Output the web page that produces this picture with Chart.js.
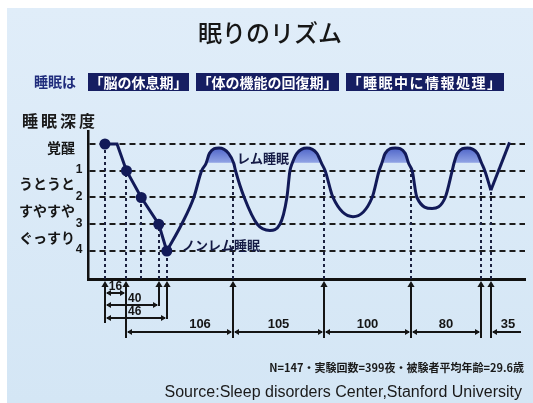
<!DOCTYPE html>
<html lang="ja">
<head>
<meta charset="utf-8">
<title>眠りのリズム</title>
<style>
  html, body { margin: 0; padding: 0; background: #ffffff; }
  canvas { display: block; }
</style>
<script src="https://cdn.jsdelivr.net/npm/chart.js@4/dist/chart.umd.min.js"></script>
</head>
<body>
<canvas id="sleep" width="533" height="403"></canvas>
<script>
// ---- data -------------------------------------------------------------
// Sleep depth: 0 = awake (覚醒), 1..4 = non-REM stages. Time in minutes.

// falling asleep: lights-out, drowsy, then stages 1 to 4
const onsetMinutes = [0, 9, 16, 27, 40, 46];
const onsetDepth   = [0, 0, 1, 2, 3, 4];
const onsetDots    = [true, false, true, true, true, true];

// REM / non-REM cycles through the night
const cycleMinutes = [46, 63, 77, 86, 91, 95, 106, 117, 123, 125, 135, 150, 164.5,
                      176, 184, 187.5, 190, 195.5, 207, 218.5, 224, 228, 237, 260,
                      282, 290, 293, 297, 308.5, 320, 324, 328, 333.5, 351,
                      366, 374, 376, 380, 391.5, 403, 408, 411.5, 418.5];
const cycleDepth   = [4, 3, 2, 1, 0.73, 0.35, 0.15, 0.35, 0.73, 1, 2, 3, 3.23,
                      3, 2, 1, 0.73, 0.35, 0.15, 0.35, 0.73, 1, 2, 2.72,
                      2, 1, 0.73, 0.35, 0.15, 0.35, 0.73, 1, 2, 2.41,
                      2, 1, 0.73, 0.35, 0.15, 0.35, 0.73, 1, 1.73];

// final awakening
const wakeMinutes = [418.5, 440];
const wakeDepth   = [1.73, -0.06];

// depth above which the curve is REM sleep (shaded caps)
const remLevel = 0.73;

// axis labels
const depthTicks   = [0, 1, 2, 3, 4];
const stageNumbers = ['1', '2', '3', '4'];
const depthNames   = ['覚醒', 'うとうと', 'すやすや', 'ぐっすり'];

// measured intervals (minutes)
const onsetIntervals = [16, 40, 46];          // lights-out -> stage 1, 3, 4
const cycleIntervals = [106, 105, 100, 80];   // successive cycles from stage 1
const lastDipMinute  = 418.5;
const finalInterval  = 35;

// texts
const titleText   = '眠りのリズム';
const leadText    = '睡眠は';
const roleTexts   = ['「脳の休息期」', '「体の機能の回復期」', '「睡眠中に情報処理」'];
const axisTitle   = '睡眠深度';
const remText     = 'レム睡眠';
const nremText    = 'ノンレム睡眠';
const noteText    = 'N=147・実験回数=399夜・被験者平均年齢=29.6歳';
const sourceText  = 'Source:Sleep disorders Center,Stanford University';

// ---- styles -------------------------------------------------------------
const NAVY = '#121a58';
const INK = '#151515';
const JP = '"Noto Sans CJK JP", "Noto Sans", sans-serif';
const LAT = '"Liberation Sans", Arial, sans-serif';

// time axis whose sleep-onset stretch (up to the knee) is drawn enlarged
class SleepTimeScale extends Chart.LinearScale {
  static id = 'sleeptime';
  static defaults = {};
  _warp(v) {
    const k = this.options.knee, s = this.options.stretch;
    return v <= k ? v * s : k * s + (v - k);
  }
  _unwarp(u) {
    const k = this.options.knee, s = this.options.stretch;
    return u <= k * s ? u / s : u - k * s + k;
  }
  getPixelForValue(v) {
    if (v === null || v === undefined) return NaN;
    const a = this._warp(this.min), b = this._warp(this.max);
    return this.getPixelForDecimal((this._warp(v) - a) / (b - a));
  }
  getValueForPixel(p) {
    const a = this._warp(this.min), b = this._warp(this.max);
    return this._unwarp(a + this.getDecimalForPixel(p) * (b - a));
  }
}
Chart.register(SleepTimeScale);

const pts = (xs, ys) => xs.map((x, i) => ({ x, y: ys[i] }));

function arrowHead(ctx, x, y, dir, size) {
  const s = size || 5, w = s * 0.6;
  ctx.beginPath();
  if (dir === 'r') { ctx.moveTo(x, y); ctx.lineTo(x - s, y - w); ctx.lineTo(x - s, y + w); }
  else if (dir === 'l') { ctx.moveTo(x, y); ctx.lineTo(x + s, y - w); ctx.lineTo(x + s, y + w); }
  else { ctx.moveTo(x, y); ctx.lineTo(x - w, y + s); ctx.lineTo(x + w, y + s); }
  ctx.closePath();
  ctx.fill();
}

function text(ctx, s, x, y, font, color, align, spacing) {
  ctx.font = font;
  ctx.fillStyle = color || INK;
  ctx.textAlign = align || 'left';
  ctx.textBaseline = 'middle';
  ctx.letterSpacing = spacing || '0px';
  ctx.fillText(s, x, y);
  ctx.letterSpacing = '0px';
}

const backdrop = {
  id: 'backdrop',
  beforeDraw(chart) {
    const { ctx, width, height } = chart;
    ctx.save();
    ctx.fillStyle = '#ffffff';
    ctx.fillRect(0, 0, width, height);
    const g = ctx.createLinearGradient(0, 8, 0, height);
    g.addColorStop(0, '#e0edf9');
    g.addColorStop(1, '#d4e6f5');
    ctx.fillStyle = g;
    ctx.fillRect(7, 8, width - 7, height - 8);
    ctx.restore();
  }
};

// dotted drop lines from the curve down to the time axis
const dropLines = {
  id: 'dropLines',
  beforeDatasetsDraw(chart) {
    const { ctx, chartArea: area, scales: { x, y } } = chart;
    const drops = [];
    onsetMinutes.forEach((t, i) => { if (onsetDots[i]) drops.push([t, onsetDepth[i]]); });
    let t = onsetMinutes[0] + onsetIntervals[0];
    cycleIntervals.forEach(m => { t += m; drops.push([t, 1]); });
    drops.push([lastDipMinute, wakeDepth[0]]);
    ctx.save();
    ctx.strokeStyle = '#1b2140';
    ctx.lineWidth = 2;
    ctx.setLineDash([3, 3]);
    drops.forEach(([tm, d]) => {
      const px = Math.round(x.getPixelForValue(tm));
      ctx.beginPath();
      ctx.moveTo(px, area.bottom);
      ctx.lineTo(px, y.getPixelForValue(d));
      ctx.stroke();
    });
    ctx.restore();
  }
};

// titles, labels, interval dimensions and notes
const annotations = {
  id: 'annotations',
  afterDraw(chart) {
    const { ctx, chartArea: area, scales: { x, y } } = chart;
    const X = v => Math.round(x.getPixelForValue(v));
    const Y = v => y.getPixelForValue(v);
    ctx.save();

    // heading
    text(ctx, titleText, 270, 33, `500 24px ${JP}`, '#161616', 'center');
    text(ctx, leadText, 34, 82, `bold 14px ${JP}`, '#1f2c7c');
    const boxSpacing = ['0px', '0px', '1.5px'];
    let bx = 88;
    roleTexts.forEach((s, i) => {
      ctx.font = `bold 14px ${JP}`;
      ctx.letterSpacing = boxSpacing[i];
      const w = ctx.measureText(s).width + 3;
      ctx.letterSpacing = '0px';
      ctx.fillStyle = '#161e62';
      ctx.fillRect(bx, 73, w, 18);
      text(ctx, s, bx + 1.5, 82.5, `bold 14px ${JP}`, '#ffffff', 'left', boxSpacing[i]);
      bx += w + 7;
    });

    // depth axis
    text(ctx, axisTitle, 22, 121, `bold 16px ${JP}`, '#1a1a1a', 'left', '3px');
    text(ctx, depthNames[0], 75, Y(0) + 4, `bold 14px ${JP}`, INK, 'right');
    for (let i = 1; i < depthNames.length; i++) {
      text(ctx, depthNames[i], 75, Y(i + 0.5), `bold 14px ${JP}`, INK, 'right');
    }
    stageNumbers.forEach((s, i) => {
      text(ctx, s, 79, Y(depthTicks[i + 1]) - 1, `bold 12px ${LAT}`, INK, 'center');
    });

    // curve labels
    text(ctx, remText, X(125) + 1, Y(remLevel) - 5, `bold 13px ${JP}`, '#141a45');
    text(ctx, nremText, X(onsetIntervals[2]) + 15, Y(4) - 6, `bold 13px ${JP}`, '#141a45');

    // interval dimensions under the time axis
    const b = area.bottom;
    const t0 = onsetMinutes[0];
    const onsetEnds = onsetIntervals.map(m => t0 + m);
    const bounds = [onsetEnds[0]];
    cycleIntervals.forEach(m => bounds.push(bounds[bounds.length - 1] + m));
    const rowY = [b + 14, b + 26, b + 39];
    const mainY = b + 53;

    ctx.strokeStyle = INK;
    ctx.fillStyle = INK;
    ctx.lineWidth = 2;
    ctx.setLineDash([]);
    const ext = (t, yEnd) => {
      const px = X(t);
      ctx.beginPath();
      ctx.moveTo(px, b + 4);
      ctx.lineTo(px, yEnd);
      ctx.stroke();
      arrowHead(ctx, px, b + 2, 'u', 6);
    };
    ext(t0, rowY[2] + 5);
    ext(onsetEnds[0], mainY + 6);
    ext(onsetEnds[1], rowY[1] + 1);
    ext(onsetEnds[2], rowY[2] + 1);
    bounds.slice(1).forEach(t => ext(t, mainY + 6));
    ext(lastDipMinute, mainY + 6);

    const dim = (x0, x1, yy) => {
      ctx.beginPath();
      ctx.moveTo(x0 + 2, yy);
      ctx.lineTo(x1 - 2, yy);
      ctx.stroke();
      arrowHead(ctx, x0 + 1, yy, 'l', 5);
      arrowHead(ctx, x1 - 1, yy, 'r', 5);
    };
    onsetIntervals.forEach((m, i) => {
      dim(X(t0), X(t0 + m), rowY[i]);
      if (i === 0) {
        text(ctx, String(m), (X(t0) + X(t0 + m)) / 2, rowY[i] - 6, `bold 12px ${LAT}`, INK, 'center');
      } else {
        text(ctx, String(m), X(onsetEnds[0]) + 2, rowY[i] - 6, `bold 12px ${LAT}`, INK, 'left');
      }
    });
    cycleIntervals.forEach((m, i) => {
      const x0 = X(bounds[i]), x1 = X(bounds[i + 1]);
      dim(x0, x1, mainY);
      const from = i === 0 ? Math.max(x0, X(onsetEnds[2])) : x0;
      text(ctx, String(m), (from + x1) / 2, mainY - 8, `bold 13px ${LAT}`, INK, 'center');
    });
    {
      const x0 = X(lastDipMinute), x1 = X(lastDipMinute + finalInterval);
      ctx.beginPath();
      ctx.moveTo(x0 + 2, mainY);
      ctx.lineTo(x1, mainY);
      ctx.stroke();
      arrowHead(ctx, x0 + 1, mainY, 'l', 5);
      text(ctx, String(finalInterval), (x0 + x1) / 2 + 2, mainY - 8, `bold 13px ${LAT}`, INK, 'center');
    }

    // notes
    text(ctx, noteText, 524, 368, `bold 11px ${JP}`, '#1a1a1a', 'right');
    text(ctx, sourceText, 522, 393, `16px ${LAT}`, '#1a1a1a', 'right');

    ctx.restore();
  }
};

const chart = new Chart(document.getElementById('sleep'), {
  type: 'line',
  data: {
    datasets: [
      {
        label: '入眠',
        data: pts(onsetMinutes, onsetDepth),
        borderColor: NAVY,
        borderWidth: 3,
        tension: 0,
        pointRadius: onsetDots.map(d => (d ? 5.5 : 0)),
        pointBackgroundColor: NAVY,
        pointBorderWidth: 0,
        fill: false
      },
      {
        label: '睡眠周期',
        data: pts(cycleMinutes, cycleDepth),
        borderColor: NAVY,
        borderWidth: 3,
        cubicInterpolationMode: 'monotone',
        pointRadius: 0,
        fill: { value: remLevel, below: 'rgba(0,0,0,0)' },
        backgroundColor: (c) => {
          const ch = c.chart, ys = ch.scales && ch.scales.y;
          if (!ch.chartArea || !ys) return '#6a80d8';
          const g = ch.ctx.createLinearGradient(0, ys.getPixelForValue(0.1), 0, ys.getPixelForValue(remLevel));
          g.addColorStop(0, '#4a60c6');
          g.addColorStop(0.93, '#8fa2e4');
          g.addColorStop(0.97, 'rgba(143,162,228,0)');
          g.addColorStop(1, 'rgba(143,162,228,0)');
          return g;
        }
      },
      {
        label: '目覚め',
        data: pts(wakeMinutes, wakeDepth),
        borderColor: NAVY,
        borderWidth: 3,
        tension: 0,
        pointRadius: 0,
        fill: false
      }
    ]
  },
  options: {
    responsive: false,
    animation: false,
    devicePixelRatio: 1,
    events: [],
    layout: { autoPadding: false, padding: { left: 88, right: 8, top: 131, bottom: 124 } },
    plugins: { legend: { display: false }, tooltip: { enabled: false } },
    scales: {
      x: {
        type: 'sleeptime',
        min: -12.6,
        max: 457.7,
        knee: 46,
        stretch: 1.546,
        grid: { display: false, drawTicks: false },
        ticks: { display: false },
        border: { display: true, color: '#111111', width: 3 },
        afterFit: s => { s.height = 0; }
      },
      y: {
        type: 'linear',
        reverse: true,
        min: -0.486,
        max: 5.047,
        afterBuildTicks: s => { s.ticks = depthTicks.map(v => ({ value: v })); },
        grid: { color: '#1c1c1c', lineWidth: 2, drawTicks: false },
        border: { display: true, color: '#111111', width: 2.5, dash: [6, 4] },
        ticks: { display: false },
        afterFit: s => { s.width = 0; }
      }
    }
  },
  plugins: [backdrop, dropLines, annotations]
});
</script>
</body>
</html>
